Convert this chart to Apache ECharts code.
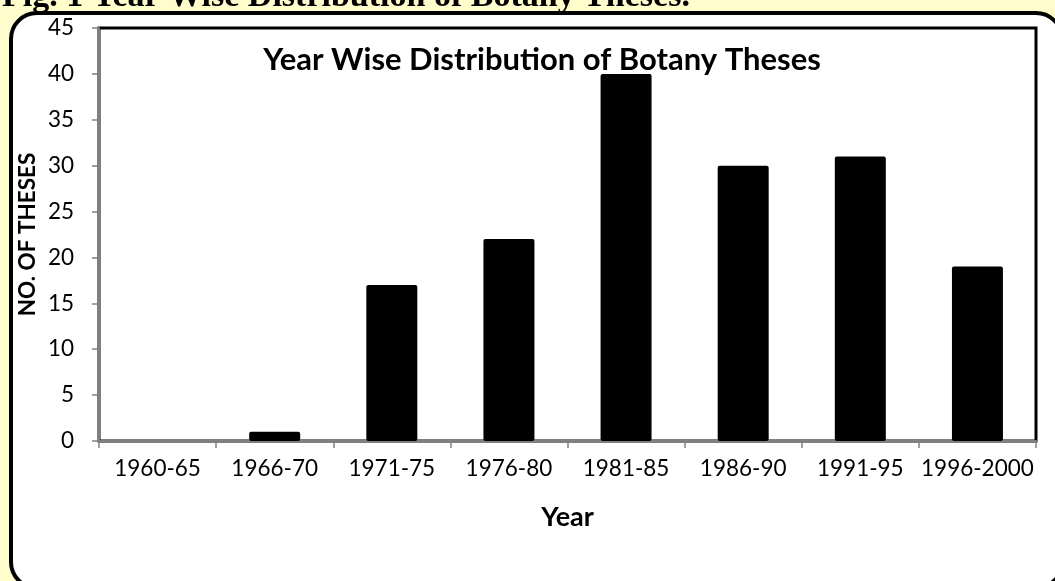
<!DOCTYPE html>
<html>
<head>
<meta charset="utf-8">
<script src="https://cdn.jsdelivr.net/npm/echarts@6/dist/echarts.min.js"></script>
<style>
html,body{margin:0;padding:0;background:#FFFDCC;}
#c{width:1055px;height:581px;}
</style>
</head>
<body>
<div id="c"></div>
<script>
const categories = ['1960-65','1966-70','1971-75','1976-80','1981-85','1986-90','1991-95','1996-2000'];
const theses = [0, 1, 17, 22, 40, 30, 31, 19];
const yTicks = {min: 0, max: 45, interval: 5};
const captionText = 'Fig. 1 Year Wise Distribution of Botany Theses.';
const titleText = 'Year Wise Distribution of Botany Theses';
const xName = 'Year';
const yName = 'NO. OF THESES';

const chart = echarts.init(document.getElementById('c'), null, {renderer: 'canvas'});
chart.setOption({
  animation: false,
  backgroundColor: '#FFFDCC',
  graphic: [
    {type: 'rect', z: -10, shape: {x: 11, y: 13, width: 1051, height: 575, r: 26},
     style: {fill: '#ffffff', stroke: '#000000', lineWidth: 4}},
    {type: 'text', z: -5, x: 2, y: 14,
     style: {text: captionText, font: 'bold 34px "Liberation Serif", "DejaVu Serif", serif', fill: '#000', verticalAlign: 'bottom', align: 'left'}}
  ],
  title: {
    text: titleText, left: 537, top: 39, textAlign: 'center',
    textStyle: {fontFamily: 'Lato', fontWeight: 'bold', fontSize: 31, color: '#000'}
  },
  grid: {left: 99, top: 28, right: 19, bottom: 140, show: true, borderColor: '#000', borderWidth: 3, backgroundColor: 'transparent'},
  xAxis: {
    type: 'category', data: categories,
    name: xName, nameLocation: 'middle', nameGap: 63, nameMoveOverlap: false,
    nameTextStyle: {fontFamily: 'Lato', fontWeight: 'bold', fontSize: 27, color: '#000'},
    axisLine: {lineStyle: {color: '#808080', width: 2}},
    axisTick: {show: true, length: 7, lineStyle: {color: '#808080', width: 1.5}},
    axisLabel: {margin: 16, fontFamily: 'Lato', fontSize: 22.5, color: '#000', interval: 0},
    splitLine: {show: false}
  },
  yAxis: {
    type: 'value', min: yTicks.min, max: yTicks.max, interval: yTicks.interval,
    name: yName, nameLocation: 'middle', nameGap: 60, nameRotate: 90, nameMoveOverlap: false,
    nameTextStyle: {fontFamily: 'Lato', fontWeight: 'bold', fontSize: 22.5, color: '#000'},
    axisLine: {show: true, lineStyle: {color: '#808080', width: 2}},
    axisTick: {show: true, length: 7, lineStyle: {color: '#808080', width: 1.5}},
    axisLabel: {margin: 25, fontFamily: 'Lato', fontSize: 22.5, color: '#000'},
    splitLine: {show: false}
  },
  series: [{
    type: 'bar', data: theses, barWidth: 51,
    itemStyle: {color: '#000', borderRadius: 2}
  }]
});
</script>
</body>
</html>
